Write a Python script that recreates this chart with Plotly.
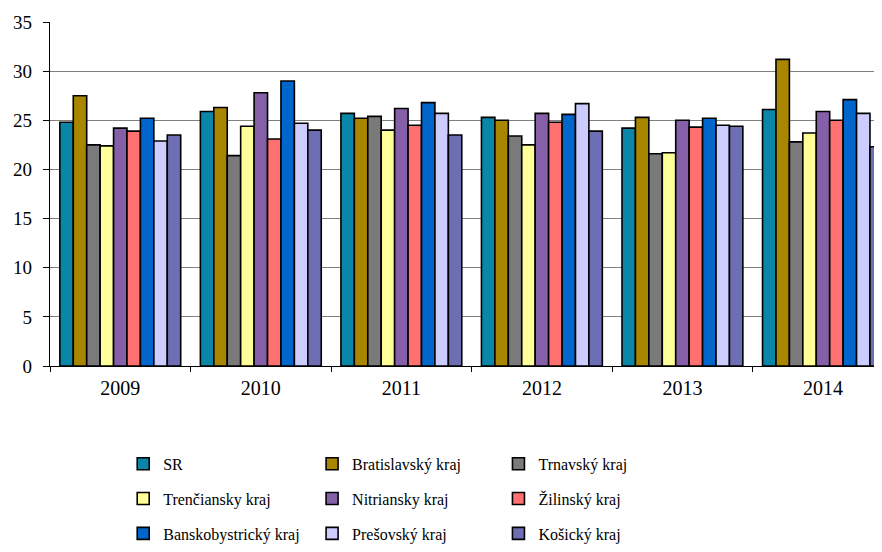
import plotly.graph_objects as go

years = ["2009", "2010", "2011", "2012", "2013", "2014"]

series_names = [
    "SR", "Bratislavský kraj", "Trnavský kraj",
    "Trenčiansky kraj", "Nitriansky kraj", "Žilinský kraj",
    "Banskobystrický kraj", "Prešovský kraj", "Košický kraj",
]

sr = [24.8, 25.9, 25.7, 25.3, 24.2, 26.1]
bratislavsky = [27.5, 26.3, 25.2, 25.0, 25.3, 31.2]
trnavsky = [22.5, 21.4, 25.4, 23.4, 21.6, 22.8]
trenciansky = [22.4, 24.4, 24.0, 22.5, 21.7, 23.7]
nitriansky = [24.2, 27.8, 26.2, 25.7, 25.0, 25.9]
zilinsky = [23.9, 23.1, 24.5, 24.8, 24.3, 25.0]
banskobystricky = [25.2, 29.0, 26.8, 25.6, 25.2, 27.1]
presovsky = [22.9, 24.7, 25.7, 26.7, 24.5, 25.7]
kosicky = [23.5, 24.0, 23.5, 23.9, 24.4, 22.3]

values = [sr, bratislavsky, trnavsky, trenciansky, nitriansky, zilinsky,
          banskobystricky, presovsky, kosicky]

colors = ["#0A86A8", "#A88600", "#7A7A7A", "#FFFF99", "#8560A8",
          "#FF7070", "#0066CC", "#CCCCFF", "#6E6EB4"]

# legend column assignment (3 columns, row-major order in reference)
legend_ids = ["legend", "legend2", "legend3"] * 3

FONT = "Liberation Serif"

fig = go.Figure()
for i, (name, vals, col) in enumerate(zip(series_names, values, colors)):
    fig.add_trace(go.Bar(
        x=years, y=vals, name=name,
        marker=dict(color=col, line=dict(color="#000000", width=1.6)),
        legend=legend_ids[i], legendgroup=name,
    ))

legend_common = dict(
    orientation="v", yanchor="top", y=-0.235, xanchor="left",
    font=dict(family=FONT, size=16, color="#000000"),
    bgcolor="rgba(0,0,0,0)", tracegroupgap=11, itemwidth=30,
)

# the page body adds an 8px offset; margins compensate for it
fig.update_layout(
    width=882, height=552,
    margin=dict(l=42, r=8, t=14, b=194, autoexpand=False),
    paper_bgcolor="#FFFFFF", plot_bgcolor="#FFFFFF",
    barmode="group", bargap=0.14, bargroupgap=0,
    font=dict(family=FONT, size=16, color="#000000"),
    legend=dict(x=0.088, **legend_common),
    legend2=dict(x=0.315, **legend_common),
    legend3=dict(x=0.539, **legend_common),
    showlegend=True,
)

fig.update_xaxes(
    type="category", range=[-0.5, 5.42],
    showline=True, linecolor="#000000", linewidth=1.2,
    ticks="outside", tickson="boundaries", ticklen=5, tickcolor="#000000",
    ticklabelstandoff=4,
    showgrid=False, tickfont=dict(family=FONT, size=20, color="#000000"),
)
fig.update_yaxes(
    range=[0, 35], dtick=5, tick0=0,
    showline=True, linecolor="#000000", linewidth=1.2,
    ticks="outside", ticklen=6, tickcolor="#000000",
    ticklabelstandoff=7,
    showgrid=True, gridcolor="#808080", gridwidth=1.4,
    zeroline=False,
    tickfont=dict(family=FONT, size=19, color="#000000"),
)

fig.write_html("out.html")
